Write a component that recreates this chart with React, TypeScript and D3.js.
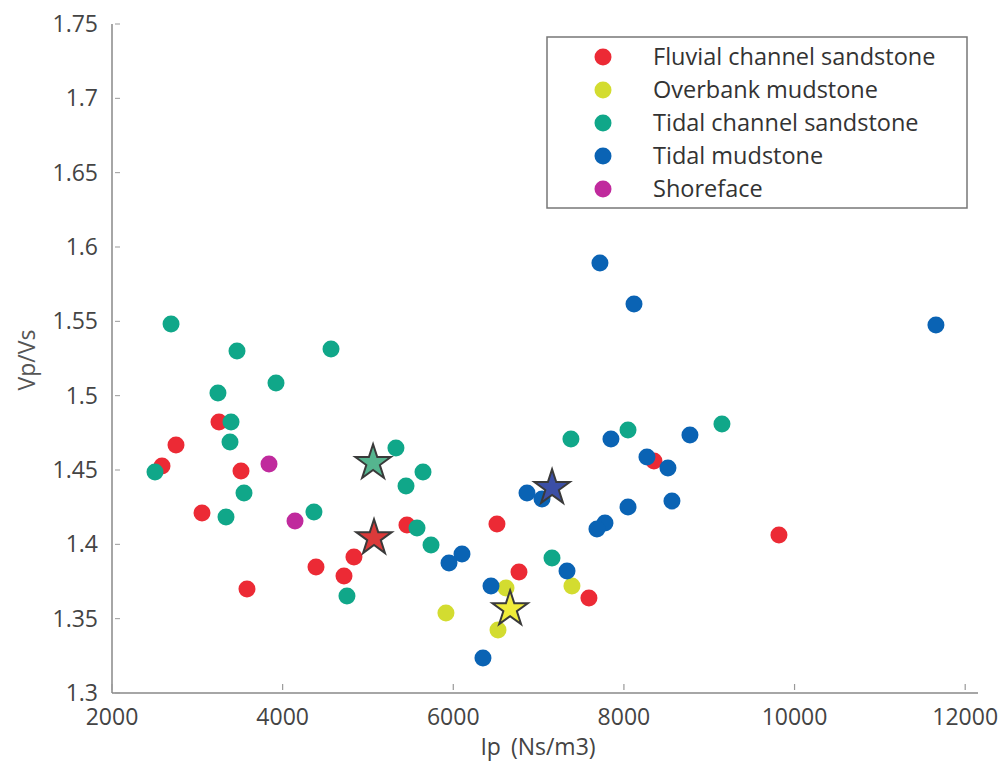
import React from "react";
import * as d3 from "d3";

const seriesNames = [
  "Fluvial channel sandstone",
  "Overbank mudstone",
  "Tidal channel sandstone",
  "Tidal mudstone",
  "Shoreface",
];
const seriesColors = ["#ec2a35", "#d3dc30", "#10a789", "#0a63b4", "#c02a9d"];
const starColors = ["#db3a3a", "#55b58f", "#3c4fa6", "#f0ec3a"];

const fluvial: [number, number][] = [
  [2750, 1.4668], [2586, 1.4527], [3055, 1.4211], [3254, 1.4823], [3512, 1.4493],
  [3582, 1.37], [4391, 1.3847], [4836, 1.3915], [4719, 1.3787], [5457, 1.413],
  [6512, 1.4137], [6770, 1.3814], [7590, 1.3639], [8352, 1.456], [9817, 1.4063],
];
const overbank: [number, number][] = [
  [5914, 1.3538], [6524, 1.3424], [6618, 1.3706], [7391, 1.372],
];
const tidalChannel: [number, number][] = [
  [2692, 1.5482], [3465, 1.53], [3242, 1.5018], [3395, 1.4823], [3383, 1.4688],
  [3547, 1.4345], [3336, 1.4184], [2504, 1.4486], [3922, 1.5085], [4567, 1.5314],
  [4367, 1.4217], [4754, 1.3652], [5328, 1.4648], [5446, 1.4392], [5645, 1.4486],
  [5575, 1.411], [5739, 1.3995], [7157, 1.3908], [7379, 1.4708], [8048, 1.4769],
  [9149, 1.4809],
];
const tidalMud: [number, number][] = [
  [7719, 1.5892], [8118, 1.5616], [11657, 1.5475], [7848, 1.4708], [8774, 1.4735],
  [8270, 1.4587], [8516, 1.4513], [8563, 1.4291], [8048, 1.4251], [7778, 1.4143],
  [7684, 1.4103], [6864, 1.4345], [7040, 1.4305], [6102, 1.3935], [5950, 1.3874],
  [6442, 1.372], [7333, 1.3821], [6348, 1.3235],
];
const shoreface: [number, number][] = [
  [3840, 1.454], [4145, 1.4157],
];
// means: fluvial, tidal channel, tidal mud, overbank
const stars: [number, number][] = [
  [5071, 1.4043], [5060, 1.4548], [7158, 1.438], [6666, 1.3565],
];
const xTicks = [2000, 4000, 6000, 8000, 10000, 12000];
const yTicks = [1.3, 1.35, 1.4, 1.45, 1.5, 1.55, 1.6, 1.65, 1.7, 1.75];

const FONT = "'Open Sans', sans-serif";

export default function App() {
  const x = d3.scaleLinear().domain([2000, 12150]).range([112, 978]);
  const y = d3.scaleLinear().domain([1.3, 1.75]).range([693, 24]);
  const all = [fluvial, overbank, tidalChannel, tidalMud, shoreface];
  const starPath = d3.symbol(d3.symbolStar, 390)() as string;
  const starOrder = [0, 2, 3, 1];
  return (
    <svg
      width={1000}
      height={764}
      style={{ position: "absolute", left: 0, top: 0, background: "#fff" }}
      fontFamily={FONT}
    >
      <rect x={0} y={0} width={1000} height={764} fill="#fff" />
      {/* axes */}
      <line x1={112} y1={24} x2={112} y2={693} stroke="#888" strokeWidth={1.5} />
      <line x1={112} y1={693} x2={978} y2={693} stroke="#888" strokeWidth={1.5} />
      {yTicks.map((t) => (
        <g key={"y" + t}>
          <line x1={115} x2={120} y1={y(t)} y2={y(t)} stroke="#999" strokeWidth={1} />
          <text x={98} y={y(t) + 8} textAnchor="end" fontSize={23} fill="#444">
            {String(t)}
          </text>
        </g>
      ))}
      {xTicks.map((t) => (
        <g key={"x" + t}>
          <line x1={x(t)} x2={x(t)} y1={684} y2={690} stroke="#999" strokeWidth={1.2} />
          <text x={x(t)} y={725} textAnchor="middle" fontSize={23} fill="#444">
            {String(t)}
          </text>
        </g>
      ))}
      <text x={538} y={755} textAnchor="middle" fontSize={23} fill="#444">
        <tspan>Ip</tspan>
        <tspan dx={10}>(Ns/m3)</tspan>
      </text>
      <text
        transform="translate(35,360) rotate(-90)"
        textAnchor="middle"
        fontSize={23}
        fill="#555"
      >
        Vp/Vs
      </text>
      {/* points */}
      {all.map((pts, si) => (
        <g key={"s" + si}>
          {pts.map((p, i) => (
            <circle key={i} cx={x(p[0])} cy={y(p[1])} r={8.5} fill={seriesColors[si]} />
          ))}
        </g>
      ))}
      {/* stars */}
      {stars.map((p, i) => (
        <path
          key={"st" + i}
          d={starPath}
          transform={`translate(${x(p[0])},${y(p[1])})`}
          fill={starColors[i]}
          stroke="#3a3a3a"
          strokeWidth={2}
          strokeLinejoin="miter"
        />
      ))}
      {/* legend */}
      <rect x={547} y={37} width={420} height={171} fill="#fff" stroke="#777" strokeWidth={1.5} />
      {seriesNames.map((n, i) => (
        <g key={"l" + i}>
          <circle cx={603} cy={57 + i * 33} r={8.5} fill={seriesColors[i]} />
          <text x={653} y={65 + i * 33} fontSize={23.5} fill="#333">
            {n}
          </text>
        </g>
      ))}
    </svg>
  );
}
